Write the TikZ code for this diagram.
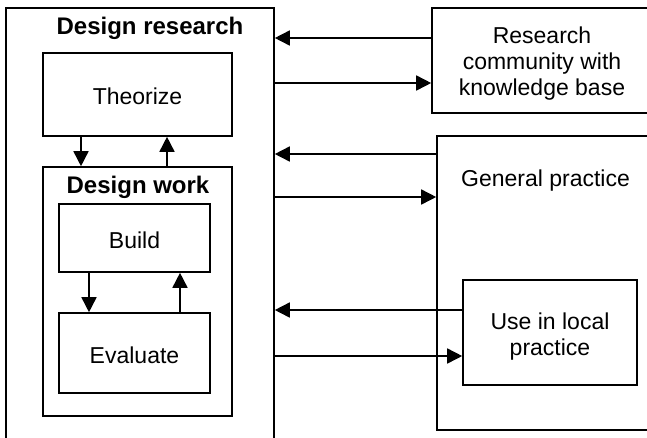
\documentclass[tikz,border=0pt]{standalone}
\usepackage{fontspec}
\setmainfont{Liberation Sans}
\usetikzlibrary{arrows.meta}
\tikzset{
  box/.style={draw, line width=1.6pt, rectangle, inner sep=0pt},
  lbl/.style={inner sep=0pt, align=center, font=\fontsize{23}{26}\selectfont},
  ttl/.style={inner sep=0pt, font=\fontsize{24}{27}\selectfont\bfseries},
  arr/.style={line width=1.6pt, -{Triangle[length=15pt,width=15pt]}},
}
\begin{document}
\begin{tikzpicture}[x=1pt,y=-1pt]
\useasboundingbox (0,0) rectangle (647,437);
\clip (0,0) rectangle (647,437);
\fill[white] (0,0) rectangle (647,437);
% outer frames (run past the page edge)
\node[box, minimum width=268pt, minimum height=462pt] (dr) at (140,239) {};
\node[box, minimum width=220pt, minimum height=105pt] (comm) at (542,60.5) {};
\node[lbl] at ([yshift=-3pt]comm.center) {Research\\community with\\knowledge base};
\node[box, minimum width=223pt, minimum height=294pt] (gen) at (548.5,283) {};
\node[lbl, anchor=base] at (545.5,186) {General practice};
\node[box, minimum width=174pt, minimum height=105pt] (loc) at (550,332.5) {};
\node[lbl] at ([yshift=-4pt]loc.center) {Use in local\\practice};
% design research contents
\node[ttl, anchor=base] at (150,34) {Design research};
\node[box, minimum width=189pt, minimum height=83pt] (theo) at (137.5,94.5) {};
\node[lbl] at ([yshift=-2pt]theo.center) {Theorize};
\node[box, minimum width=189pt, minimum height=249pt] (dw) at (137.5,291.5) {};
\node[ttl, anchor=base] at (138,193) {Design work};
\node[box, minimum width=151pt, minimum height=68pt] (build) at (134.5,238) {};
\node[lbl] at ([yshift=-2pt]build.center) {Build};
\node[box, minimum width=151pt, minimum height=80pt] (eval) at (134.5,353) {};
\node[lbl] at ([yshift=-2pt]eval.center) {Evaluate};
% inner loops
\draw[arr] (theo.south -| 81,0) -- (dw.north -| 81,0);
\draw[arr] (dw.north -| 167,0) -- (theo.south -| 167,0);
\draw[arr] (build.south -| 89,0) -- (eval.north -| 89,0);
\draw[arr] (eval.north -| 180,0) -- (build.south -| 180,0);
% exchanges with the outside
\draw[arr] (comm.west |- 0,38) -- (dr.east |- 0,38);
\draw[arr] (dr.east |- 0,83) -- (comm.west |- 0,83);
\draw[arr] (gen.west |- 0,154) -- (dr.east |- 0,154);
\draw[arr] (dr.east |- 0,197) -- (gen.west |- 0,197);
\draw[arr] (loc.west |- 0,310) -- (dr.east |- 0,310);
\draw[arr] (dr.east |- 0,356) -- (loc.west |- 0,356);
\end{tikzpicture}
\end{document}
